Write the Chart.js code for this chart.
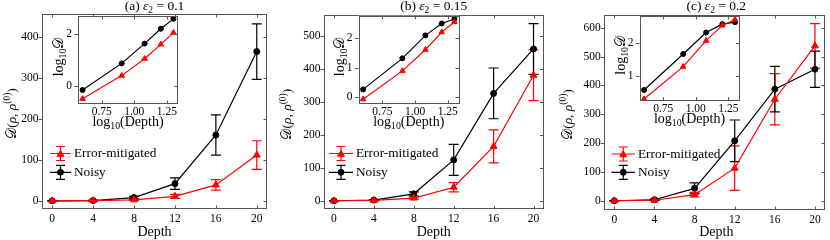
<!DOCTYPE html>
<html><head><meta charset="utf-8">
<script src="https://cdn.jsdelivr.net/npm/chart.js@4/dist/chart.umd.min.js"></script>
<style>
body{margin:0;background:#fff;}
#wrap{position:relative;width:830px;height:240px;overflow:hidden;}
canvas{position:absolute;left:0;top:0;}
</style></head><body><div id="wrap">
<canvas id="ma" width="830" height="240"></canvas>
<canvas id="mb" width="830" height="240"></canvas>
<canvas id="mc" width="830" height="240"></canvas>
<canvas id="ia" width="830" height="240"></canvas>
<canvas id="ib" width="830" height="240"></canvas>
<canvas id="ic" width="830" height="240"></canvas>
</div>
<script>
// ---------- data ----------
const depths = [0, 4, 8, 12, 16, 20];
const logDepths = [0.602, 0.903, 1.079, 1.204, 1.301];
const xTicksMain = [0, 4, 8, 12, 16, 20];
const xTicksInset = [0.75, 1.00, 1.25];
const xTickLabelsInset = ['0.75', '1.00', '1.25'];
const seriesNames = ['Error-mitigated', 'Noisy'];
const titles = ['(a)', '(b)', '(c)'];
const eps2 = ['0.1', '0.15', '0.2'];

// panel (a)
const noisyA = [0, 0.7, 8, 42, 161, 365];
const noisyErrA = [0.3, 0.8, 3, 14, 49, 68];
const mitA = [0, 0.3, 2.5, 11, 39, 112];
const mitErrA = [0.2, 0.4, 1.5, 5, 13, 35];
const logNoisyA = [-0.15, 0.87, 1.63, 2.20, 2.58];
const logMitA = [-0.49, 0.40, 1.05, 1.60, 2.05];
const yTicksA = [0, 100, 200, 300, 400];
const yTicksInsetA = [0, 2];

// panel (b)
const noisyB = [0, 1.9, 21, 124, 326, 461];
const noisyErrB = [0.3, 1.5, 6, 47, 77, 77];
const mitB = [0, 0.9, 8, 41, 165, 381];
const mitErrB = [0.2, 0.8, 3, 14, 50, 77];
const logNoisyB = [0.27, 1.31, 2.08, 2.48, 2.63];
const logMitB = [-0.06, 0.89, 1.60, 2.19, 2.53];
const yTicksB = [0, 100, 200, 300, 400, 500];
const yTicksInsetB = [0, 1, 2];

// panel (c)
const noisyC = [0, 3.6, 43, 208, 387, 456];
const noisyErrC = [0.3, 2, 19, 72, 79, 63];
const mitC = [0, 1.9, 21, 113, 352, 537];
const mitErrC = [0.2, 1, 8, 77, 89, 77];
const logNoisyC = [0.56, 1.67, 2.33, 2.59, 2.65];
const logMitC = [0.28, 1.28, 2.08, 2.55, 2.73];
const yTicksC = [0, 100, 200, 300, 400, 500, 600];
const yTicksInsetC = [1, 2];

// ---------- style ----------
const RED = '#ff0000', BLACK = '#000000', FRAME = '#555555';
const FAM = '"Liberation Serif", "DejaVu Serif", "DejaVu Sans", "Noto Sans", serif';
const TICKFONT = {family: FAM, size: 11.5};

function richText(ctx, parts, x, y, size, align, rotate) {
  ctx.save();
  ctx.translate(x, y);
  if (rotate) ctx.rotate(rotate);
  let total = 0; const m = [];
  for (const p of parts) {
    const s = size * (p.scale || 1);
    ctx.font = (p.style || '') + ' ' + s + 'px ' + FAM;
    const w = ctx.measureText(p.t).width;
    m.push({p, s, w}); total += w;
  }
  let cx = align === 'center' ? -total / 2 : (align === 'right' ? -total : 0);
  ctx.textBaseline = 'alphabetic'; ctx.textAlign = 'left'; ctx.fillStyle = '#000';
  for (const {p, s, w} of m) {
    ctx.font = (p.style || '') + ' ' + s + 'px ' + FAM;
    ctx.fillText(p.t, cx, (p.dy || 0) * size / 13);
    cx += w;
  }
  ctx.restore();
}

function drawMarker(ctx, style, x, y, r, color) {
  ctx.save();
  ctx.fillStyle = color; ctx.strokeStyle = color; ctx.lineWidth = 1;
  ctx.beginPath();
  if (style === 'circle') { ctx.arc(x, y, r, 0, Math.PI * 2); }
  else {
    for (let k = 0; k < 3; k++) {
      const a = -Math.PI / 2 + k * 2 * Math.PI / 3;
      const px = x + r * Math.cos(a), py = y + r * Math.sin(a) + r * 0.2;
      if (k === 0) ctx.moveTo(px, py); else ctx.lineTo(px, py);
    }
    ctx.closePath();
  }
  ctx.fill(); ctx.stroke();
  ctx.restore();
}

const errorBarPlugin = {
  id: 'errbars',
  beforeDatasetsDraw(chart) {
    const ctx = chart.ctx, ys = chart.scales.y;
    chart.data.datasets.forEach((ds, i) => {
      if (!ds.errors) return;
      const meta = chart.getDatasetMeta(i);
      ctx.save();
      ctx.strokeStyle = ds.borderColor; ctx.lineWidth = 1.2;
      meta.data.forEach((pt, j) => {
        const v = ds.data[j].y, e = ds.errors[j];
        const x = pt.x, y1 = ys.getPixelForValue(v + e), y2 = ys.getPixelForValue(v - e);
        const cw = 5;
        ctx.beginPath();
        ctx.moveTo(x, y1); ctx.lineTo(x, y2);
        ctx.moveTo(x - cw, y1); ctx.lineTo(x + cw, y1);
        ctx.moveTo(x - cw, y2); ctx.lineTo(x + cw, y2);
        ctx.stroke();
      });
      ctx.restore();
    });
  }
};

const framePlugin = {
  id: 'frame',
  beforeDraw(chart, args, opts) {
    if (!opts.fill) return;
    const {left, right, top, bottom} = chart.chartArea;
    const ctx = chart.ctx;
    ctx.save(); ctx.fillStyle = '#fff';
    ctx.fillRect(left, top, right - left, bottom - top);
    ctx.restore();
  },
  afterDraw(chart, args, opts) {
    const {left, right, top, bottom} = chart.chartArea;
    const ctx = chart.ctx, tl = 3.5;
    ctx.save();
    ctx.strokeStyle = FRAME; ctx.lineWidth = 1;
    ctx.strokeRect(Math.round(left) + 0.5, Math.round(top) + 0.5, Math.round(right - left) - 1, Math.round(bottom - top) - 1);
    ctx.beginPath();
    chart.scales.x.ticks.forEach(t => {
      const px = Math.round(chart.scales.x.getPixelForValue(t.value)) + 0.5;
      ctx.moveTo(px, bottom); ctx.lineTo(px, bottom - tl);
      ctx.moveTo(px, top); ctx.lineTo(px, top + tl);
    });
    chart.scales.y.ticks.forEach(t => {
      const py = Math.round(chart.scales.y.getPixelForValue(t.value)) + 0.5;
      ctx.moveTo(left, py); ctx.lineTo(left - tl, py);
      ctx.moveTo(right, py); ctx.lineTo(right - tl, py);
    });
    ctx.stroke();
    ctx.restore();
    const ctx2 = chart.ctx;
    (opts.texts || []).forEach(t => richText(ctx2, t.parts, t.x, t.y, t.size, t.align || 'center', t.rotate || 0));
    if (opts.legend) {
      const L = opts.legend;
      const rows = [
        {name: seriesNames[0], color: RED, style: 'triangle', r: 4, y: L.y1},
        {name: seriesNames[1], color: BLACK, style: 'circle', r: 3, y: L.y2}
      ];
      rows.forEach(rw => {
        ctx2.save();
        ctx2.strokeStyle = rw.color; ctx2.lineWidth = 1.2;
        const xm = (L.x0 + L.x1) / 2;
        ctx2.beginPath();
        ctx2.moveTo(L.x0, rw.y); ctx2.lineTo(L.x1, rw.y);
        ctx2.moveTo(xm, rw.y - 7); ctx2.lineTo(xm, rw.y + 7);
        ctx2.moveTo(xm - 4.5, rw.y - 7); ctx2.lineTo(xm + 4.5, rw.y - 7);
        ctx2.moveTo(xm - 4.5, rw.y + 7); ctx2.lineTo(xm + 4.5, rw.y + 7);
        ctx2.stroke();
        ctx2.restore();
        drawMarker(ctx2, rw.style, xm, rw.y, rw.r, rw.color);
        ctx2.save();
        ctx2.font = '13.3px ' + FAM; ctx2.fillStyle = '#000';
        ctx2.textBaseline = 'middle'; ctx2.textAlign = 'left';
        ctx2.fillText(rw.name, L.tx, rw.y + 0.5);
        ctx2.restore();
      });
    }
  }
};

function mkDatasets(xs, mit, noisy, mitErr, noisyErr, rTri, rCirc) {
  return [
    {label: seriesNames[0], data: xs.map((d, i) => ({x: d, y: mit[i]})), errors: mitErr,
     borderColor: RED, backgroundColor: RED, pointBackgroundColor: RED, pointBorderColor: RED,
     pointStyle: 'triangle', pointRadius: rTri, pointBorderWidth: 1, borderWidth: 1.2, tension: 0, order: 0},
    {label: seriesNames[1], data: xs.map((d, i) => ({x: d, y: noisy[i]})), errors: noisyErr,
     borderColor: BLACK, backgroundColor: BLACK, pointBackgroundColor: BLACK, pointBorderColor: BLACK,
     pointStyle: 'circle', pointRadius: rCirc, pointBorderWidth: 1, borderWidth: 1.2, tension: 0, order: 1}
  ];
}

function makeChart(id, o) {
  const yW = o.yW, xH = o.xH;
  return new Chart(document.getElementById(id), {
    type: 'line',
    data: {datasets: o.datasets},
    options: {
      responsive: false, animation: false, devicePixelRatio: 1,
      events: [],
      layout: {padding: {left: o.box[0] - yW, right: 830 - o.box[1], top: o.box[2], bottom: 240 - o.box[3] - xH}},
      scales: {
        x: {type: 'linear', min: o.xr[0], max: o.xr[1],
            afterBuildTicks: s => { s.ticks = o.xTicks.map(v => ({value: v})); },
            afterFit: s => { s.height = xH; },
            grid: {display: false, drawTicks: false}, border: {display: false},
            ticks: {padding: o.xPad, font: TICKFONT, color: '#000', maxRotation: 0, autoSkip: false,
                    callback: (v, i) => o.xLabels ? o.xLabels[i] : String(v)}},
        y: {type: 'linear', min: o.yr[0], max: o.yr[1],
            afterBuildTicks: s => { s.ticks = o.yTicks.map(v => ({value: v})); },
            afterFit: s => { s.width = yW; },
            grid: {display: false, drawTicks: false}, border: {display: false},
            ticks: {padding: o.yPad, font: TICKFONT, color: '#000', autoSkip: false,
                    callback: v => String(v)}}
      },
      plugins: {legend: {display: false}, tooltip: {enabled: false}, title: {display: false},
                frame: {fill: o.fill, texts: o.texts, legend: o.legend}}
    },
    plugins: [errorBarPlugin, framePlugin]
  });
}

const yMainTitle = [{t: '𝒟'}, {t: '('}, {t: 'ρ', style: 'italic'}, {t: ', '}, {t: 'ρ', style: 'italic'},
                    {t: '(0)', scale: 0.7, dy: -5}, {t: ')'}];
const yInsetTitle = [{t: 'log'}, {t: '10', scale: 0.7, dy: 3}, {t: '𝒟'}];
const xInsetTitle = [{t: 'log'}, {t: '10', scale: 0.7, dy: 3}, {t: '(Depth)'}];
function titleParts(k) {
  return [{t: titles[k] + ' '}, {t: 'ε', style: 'italic'}, {t: '2', scale: 0.7, dy: 3}, {t: ' = ' + eps2[k]}];
}

const panels = [
  {main: 'ma', inset: 'ia', box: [42, 267, 14, 209], yr: [-20, 457], yTicks: yTicksA,
   mit: mitA, noisy: noisyA, mitErr: mitErrA, noisyErr: noisyErrA, yLabelX: 15.5,
   legend: {x0: 50, x1: 71, tx: 74, y1: 153.5, y2: 172.3},
   ibox: [78, 178, 16, 104], iyr: [-0.69, 2.69], iyTicks: yTicksInsetA, ilogMit: logMitA, ilogNoisy: logNoisyA},
  {main: 'mb', inset: 'ib', box: [324, 543.5, 15, 209.3], yr: [-26, 564], yTicks: yTicksB,
   mit: mitB, noisy: noisyB, mitErr: mitErrB, noisyErr: noisyErrB, yLabelX: 291,
   legend: {x0: 329, x1: 353, tx: 356, y1: 153.5, y2: 172.3},
   ibox: [358.5, 459, 15.7, 104], iyr: [-0.22, 2.74], iyTicks: yTicksInsetB, ilogMit: logMitB, ilogNoisy: logNoisyB},
  {main: 'mc', inset: 'ic', box: [604.3, 828.3, 15, 210], yr: [-32, 644], yTicks: yTicksC,
   mit: mitC, noisy: noisyC, mitErr: mitErrC, noisyErr: noisyErrC, yLabelX: 571.5,
   legend: {x0: 611.5, x1: 635, tx: 638, y1: 154, y2: 172.3},
   ibox: [639.5, 739.5, 16, 100.7], iyr: [0.23, 2.84], iyTicks: yTicksInsetC, ilogMit: logMitC, ilogNoisy: logNoisyC}
];

panels.forEach((p, k) => {
  const cx = (p.box[0] + p.box[1]) / 2, cy = (p.box[2] + p.box[3]) / 2;
  makeChart(p.main, {
    box: p.box, yW: 40, xH: 30, xr: [-1, 21], yr: p.yr, xTicks: xTicksMain, yTicks: p.yTicks,
    xPad: 3, yPad: 3.5, fill: false,
    datasets: mkDatasets(depths, p.mit, p.noisy, p.mitErr, p.noisyErr, 4, 3),
    legend: p.legend,
    texts: [
      {parts: titleParts(k), x: cx, y: 10, size: 13.5},
      {parts: [{t: 'Depth'}], x: cx, y: 235.5, size: 14},
      {parts: yMainTitle, x: p.yLabelX, y: cy + 2, size: 13.5, rotate: -Math.PI / 2}
    ]
  });
  const icx = (p.ibox[0] + p.ibox[1]) / 2, icy = (p.ibox[2] + p.ibox[3]) / 2;
  makeChart(p.inset, {
    box: p.ibox, yW: 20, xH: 30, xr: [0.567, 1.336], yr: p.iyr, xTicks: xTicksInset, xLabels: xTickLabelsInset,
    yTicks: p.iyTicks, xPad: 1, yPad: 6, fill: true,
    datasets: mkDatasets(logDepths, p.ilogMit, p.ilogNoisy, null, null, 3.2, 2.5),
    texts: [
      {parts: xInsetTitle, x: icx, y: p.ibox[3] + 22, size: 14},
      {parts: yInsetTitle, x: p.ibox[0] - 15, y: icy - 3, size: 14, rotate: -Math.PI / 2}
    ]
  });
});
</script>
</body></html>
